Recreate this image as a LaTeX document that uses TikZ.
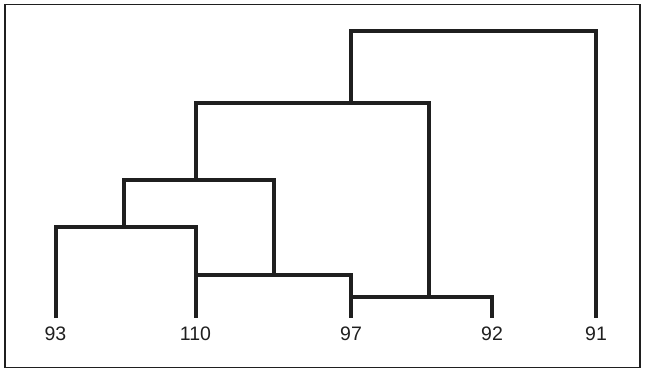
\documentclass[tikz,border=0pt]{standalone}
\usepackage{fontspec}
\setmainfont{Liberation Sans}
\begin{document}
\begin{tikzpicture}[x=1pt,y=-1pt,
  tree/.style={line width=3.6pt,line cap=butt,line join=miter,color=black!88},
  frame/.style={line width=1.8pt,color=black!88},
  leaf/.style={font=\fontsize{19.5}{20}\selectfont,text=black!88,inner sep=0pt}]
\useasboundingbox (0,0) rectangle (647,372);
\draw[frame] (5,4.5) rectangle (640,367.5);
% leaf labels
\node[leaf] (l93) at (55.5,333.5) {93};
\node[leaf] (l110) at (195.5,333.5) {110};
\node[leaf] (l97) at (351,333.5) {97};
\node[leaf] (l92) at (492,333.5) {92};
\node[leaf] (l91) at (596,333.5) {91};
% leaf tops
\coordinate (b93) at (56,318);
\coordinate (b110) at (196,318);
\coordinate (b97) at (351,318);
\coordinate (b92) at (492,318);
\coordinate (b91) at (596,318);
% joins
\coordinate (a93) at (56,227);
\coordinate (a110) at (196,227);
\coordinate (m1) at (124,227);
\coordinate (m1t) at (124,180);
\coordinate (m1r) at (274,180);
\coordinate (m2b) at (274,275);
\coordinate (h110) at (196,275);
\coordinate (h97) at (351,275);
\coordinate (k97) at (351,297);
\coordinate (k92) at (492,297);
\coordinate (k) at (429,297);
\coordinate (kt) at (429,103);
\coordinate (m2) at (196,180);
\coordinate (m2t) at (196,103);
\coordinate (top) at (351,103);
\coordinate (topt) at (351,31);
\coordinate (r91) at (596,31);
\draw[tree] (b93) -- (a93) -- (a110) -- (b110);
\draw[tree] (m1) -- (m1t) -- (m1r) -- (m2b);
\draw[tree] (h110) -- (h97) -- (b97);
\draw[tree] (k97) -- (k92) -- (b92);
\draw[tree] (k) -- (kt) -- (m2t) -- (m2);
\draw[tree] (top) -- (topt) -- (r91) -- (b91);
\end{tikzpicture}
\end{document}
